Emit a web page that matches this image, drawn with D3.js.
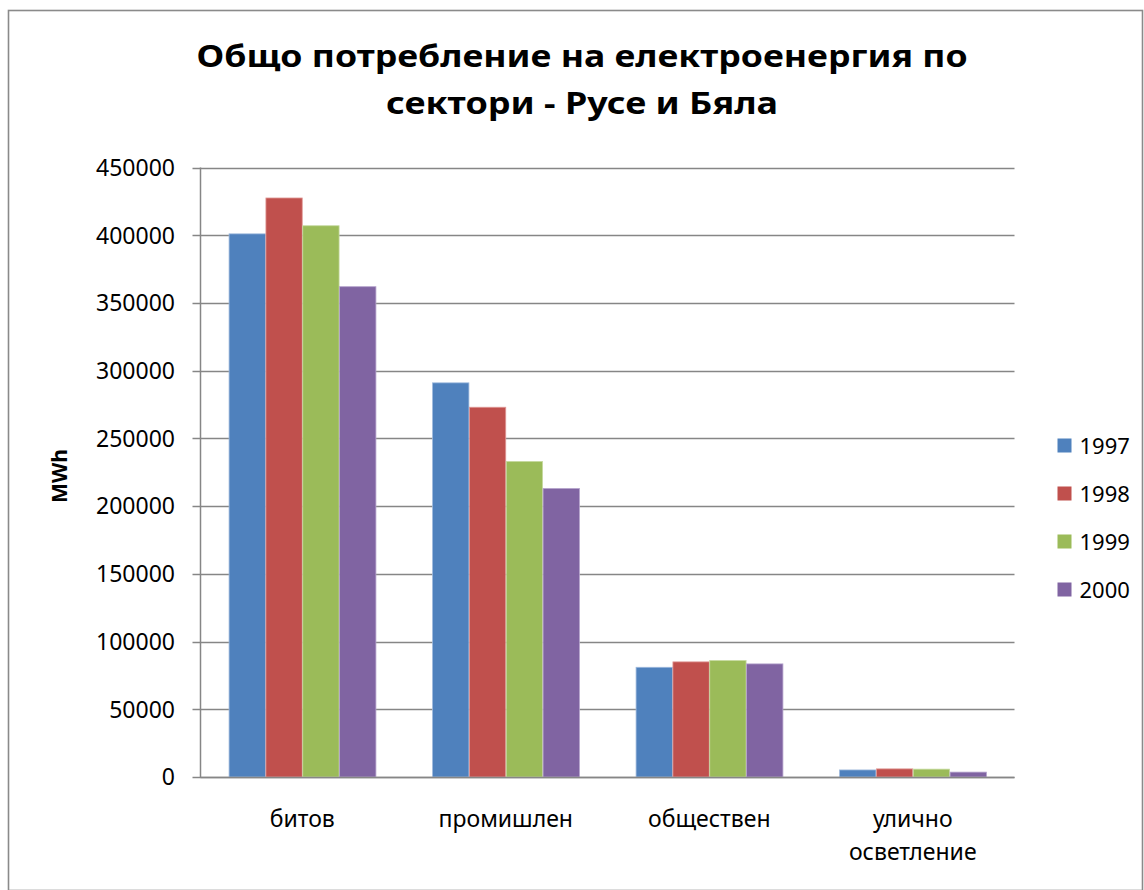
<!DOCTYPE html>
<html>
<head>
<meta charset="utf-8">
<script src="https://cdn.jsdelivr.net/npm/d3@7"></script>
<style>
  html, body { margin: 0; padding: 0; background: #fff; }
  svg { display: block; }
  text { font-family: "Noto Sans", "Open Sans", sans-serif; fill: #000; }
</style>
</head>
<body>
<svg id="chart" width="1144" height="890"></svg>
<script>
// ---- data ----
const categories = ["битов", "промишлен", "обществен", "улично осветление"];
const seriesNames = ["1997", "1998", "1999", "2000"];
const values1997 = [401000, 291000, 81000, 5200];
const values1998 = [427500, 273000, 85000, 6000];
const values1999 = [407000, 233000, 86000, 5800];
const values2000 = [362000, 213000, 83500, 3600];
const yTicks = [0, 50000, 100000, 150000, 200000, 250000, 300000, 350000, 400000, 450000];
const titleLines = ["Общо потребление на електроенергия по", "сектори - Русе и Бяла"];
const yAxisTitle = "MWh";

const colors = ["#4F81BD", "#C0504D", "#9BBB59", "#8064A2"];
const edgeColors = ["#9DB8DC", "#E09A98", "#C6DAA0", "#B4A2CB"];
const seriesValues = [values1997, values1998, values1999, values2000];

const svg = d3.select("#chart");

// outer border
svg.append("rect")
  .attr("x", 8.5).attr("y", 10.5)
  .attr("width", 1134).attr("height", 880)
  .attr("fill", "#fff").attr("stroke", "#8a8a8a").attr("stroke-width", 1.6);

const plot = { left: 200.5, right: 1014.5, top: 167.5, bottom: 777 };

const y = d3.scaleLinear().domain([0, 450000]).range([plot.bottom, plot.top]);
const x0 = d3.scaleBand().domain(categories).range([plot.left, plot.right])
  .paddingInner(0.276).paddingOuter(0.138);
const x1 = d3.scaleBand().domain(seriesNames).range([0, x0.bandwidth()]).padding(0);

// gridlines
svg.append("g").selectAll("line").data(yTicks).join("line")
  .attr("x1", plot.left - 8).attr("x2", plot.right)
  .attr("y1", d => Math.round(y(d)) + 0.5).attr("y2", d => Math.round(y(d)) + 0.5)
  .attr("stroke", "#868686").attr("stroke-width", 1.5);

// y axis line
svg.append("line")
  .attr("x1", plot.left).attr("x2", plot.left)
  .attr("y1", plot.top).attr("y2", plot.bottom + 0.5)
  .attr("stroke", "#868686").attr("stroke-width", 1.5);

// y tick labels
svg.append("g").selectAll("text").data(yTicks).join("text")
  .attr("x", 175).attr("y", d => y(d) + 8.3)
  .attr("text-anchor", "end")
  .attr("font-size", "23px")
  .text(d => d);

// bars
const groups = svg.append("g").selectAll("g").data(categories).join("g")
  .attr("transform", d => `translate(${x0(d)},0)`);
groups.selectAll("rect")
  .data((c, ci) => seriesNames.map((s, si) => ({ s, si, v: seriesValues[si][ci] })))
  .join("rect")
  .attr("x", d => x1(d.s) + 0.5)
  .attr("width", x1.bandwidth() - 0.5)
  .attr("y", d => y(d.v))
  .attr("height", d => y(0) - y(d.v))
  .attr("fill", d => colors[d.si])
  .attr("stroke", d => edgeColors[d.si])
  .attr("stroke-width", 0.8);

// x-axis base line (redraw on top)
svg.append("line")
  .attr("x1", plot.left).attr("x2", plot.right)
  .attr("y1", Math.round(y(0)) + 0.5).attr("y2", Math.round(y(0)) + 0.5)
  .attr("stroke", "#868686").attr("stroke-width", 1.5);

// category labels
const catLabels = svg.append("g").selectAll("text").data(categories).join("text")
  .attr("x", d => x0(d) + x0.bandwidth() / 2)
  .attr("y", 827)
  .attr("text-anchor", "middle")
  .attr("font-size", "23px");
catLabels.each(function (d) {
  const words = d.split(" ");
  const t = d3.select(this);
  words.forEach((w, i) => {
    t.append("tspan").attr("x", x0(d) + x0.bandwidth() / 2).attr("dy", i === 0 ? 0 : 32.5).text(w);
  });
});

// y axis title
svg.append("text")
  .attr("transform", "translate(67,476) rotate(-90)")
  .attr("text-anchor", "middle")
  .attr("font-size", "21px")
  .attr("font-weight", "bold")
  .text(yAxisTitle);

// title
const titleWidths = [771, 392];
svg.append("g").selectAll("text").data(titleLines).join("text")
  .attr("x", 582)
  .attr("y", (d, i) => 67 + i * 46.5)
  .attr("text-anchor", "middle")
  .attr("font-size", "31px")
  .attr("font-weight", "bold")
  .attr("textLength", (d, i) => titleWidths[i])
  .attr("lengthAdjust", "spacingAndGlyphs")
  .text(d => d);

// legend
const legend = svg.append("g").selectAll("g").data(seriesNames).join("g")
  .attr("transform", (d, i) => `translate(1057.5, ${445.5 + i * 48})`);
legend.append("rect")
  .attr("x", 0).attr("y", -7).attr("width", 14).attr("height", 14)
  .attr("fill", (d, i) => colors[i]);
legend.append("text")
  .attr("x", 22).attr("y", 8)
  .attr("font-size", "22px")
  .text(d => d);
</script>
</body>
</html>
